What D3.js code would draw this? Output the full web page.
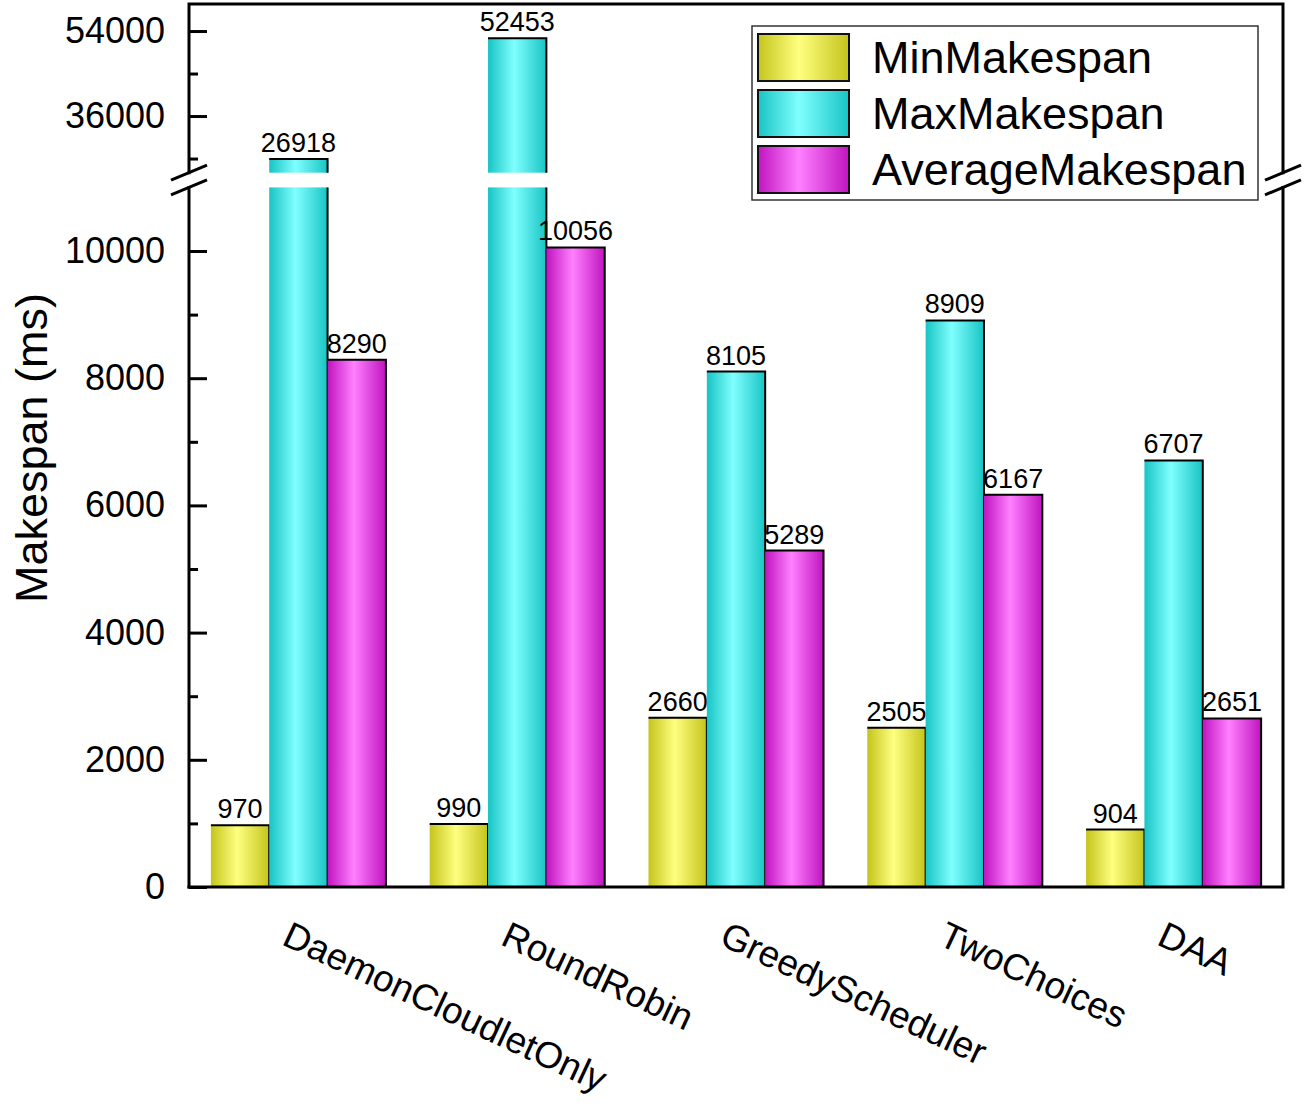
<!DOCTYPE html>
<html>
<head>
<meta charset="utf-8">
<script src="https://cdn.jsdelivr.net/npm/d3@7"></script>
<style>
  body { margin: 0; background: #fff; }
  text { font-family: "Liberation Sans", Arial, Helvetica, sans-serif; fill: #000; }
</style>
</head>
<body>
<svg id="chart"></svg>
<script>
// data
const categories = ["DaemonCloudletOnly", "RoundRobin", "GreedyScheduler", "TwoChoices", "DAA"];
const seriesNames = ["MinMakespan", "MaxMakespan", "AverageMakespan"];
const minMakespan = [970, 990, 2660, 2505, 904];
const maxMakespan = [26918, 52453, 8105, 8909, 6707];
const avgMakespan = [8290, 10056, 5289, 6167, 2651];
const lowerTicks = [0, 2000, 4000, 6000, 8000, 10000];
const lowerMinor = [1000, 3000, 5000, 7000, 9000];
const upperTicks = [36000, 54000];
const upperMinor = [27000, 45000];

const series = [minMakespan, maxMakespan, avgMakespan];

// colours: [edge, centre]
const barColors = [
    ["#c4c41c", "#ffff80"],
    ["#18c4c4", "#80ffff"],
    ["#c014c0", "#ff80ff"]
];

const W = 1307, H = 1111;
const plotLeft = 189, plotRight = 1283, plotBottom = 887, plotTop = 4;
const breakLow = 187.4, breakHigh = 172.7;
const lowMax = 11000, highMin = 24000;

const svg = d3.select("#chart")
    .attr("width", W)
    .attr("height", H);

// gradients
const defs = svg.append("defs");
barColors.forEach((c, i) => {
    const g = defs.append("linearGradient")
        .attr("id", "grad" + i)
        .attr("x1", "0%").attr("x2", "100%")
        .attr("y1", "0%").attr("y2", "0%");
    g.append("stop").attr("offset", "0%").attr("stop-color", c[0]);
    g.append("stop").attr("offset", "45%").attr("stop-color", c[1]);
    g.append("stop").attr("offset", "100%").attr("stop-color", c[0]);
});

// scales
const x = d3.scaleBand()
    .domain(categories)
    .range([plotLeft, plotRight])
    .paddingInner(0.2)
    .paddingOuter(0.1);

const xSub = d3.scaleBand()
    .domain(seriesNames)
    .range([0, x.bandwidth()]);

const yLow = d3.scaleLinear().domain([0, lowMax]).range([plotBottom, breakLow]);
const yHigh = d3.scaleLinear().domain([highMin, 60000]).range([breakHigh, 2.7]);

function yOf(v) {
    return v <= lowMax ? yLow(v) : yHigh(v);
}

// bars
const barsG = svg.append("g");
categories.forEach((cat, ci) => {
    seriesNames.forEach((name, si) => {
        const v = series[si][ci];
        const x0 = x(cat) + xSub(name);
        const w = xSub.bandwidth();
        const fill = "url(#grad" + si + ")";
        if (v <= lowMax) {
            barsG.append("rect")
                .attr("x", x0).attr("y", yLow(v))
                .attr("width", w).attr("height", yLow(0) - yLow(v))
                .attr("fill", fill);
            barsG.append("path")
                .attr("d", `M${x0},${yLow(v)}H${x0 + w}V${yLow(0)}`)
                .attr("fill", "none").attr("stroke", "#000").attr("stroke-width", 2);
        } else {
            // lower piece
            barsG.append("rect")
                .attr("x", x0).attr("y", yLow(lowMax))
                .attr("width", w).attr("height", yLow(0) - yLow(lowMax))
                .attr("fill", fill);
            barsG.append("path")
                .attr("d", `M${x0 + w},${yLow(lowMax)}V${yLow(0)}`)
                .attr("fill", "none").attr("stroke", "#000").attr("stroke-width", 2);
            // upper piece
            barsG.append("rect")
                .attr("x", x0).attr("y", yHigh(v))
                .attr("width", w).attr("height", yHigh(highMin) - yHigh(v))
                .attr("fill", fill);
            barsG.append("path")
                .attr("d", `M${x0},${yHigh(v)}H${x0 + w}V${yHigh(highMin)}`)
                .attr("fill", "none").attr("stroke", "#000").attr("stroke-width", 2);
        }
        barsG.append("text")
            .attr("x", x0 + w / 2)
            .attr("y", yOf(v) - 7)
            .attr("text-anchor", "middle")
            .style("font-size", "27px")
            .text(v);
    });
});

// axes (inward ticks)
function styleAxis(g) {
    g.select(".domain").remove();
    g.selectAll(".tick line").attr("stroke", "#000").attr("stroke-width", 3);
    g.selectAll(".tick text")
        .style("font-family", "'Liberation Sans', Arial, sans-serif")
        .style("font-size", "36px")
        .attr("fill", "#000");
}

const fmt = d3.format("d");

svg.append("g")
    .attr("transform", `translate(${plotLeft},0)`)
    .call(d3.axisLeft(yLow).tickValues(lowerTicks).tickFormat(fmt).tickSize(-18).tickPadding(24))
    .call(styleAxis);
svg.append("g")
    .attr("transform", `translate(${plotLeft},0)`)
    .call(d3.axisLeft(yLow).tickValues(lowerMinor).tickSize(-9).tickFormat(""))
    .call(styleAxis);
svg.append("g")
    .attr("transform", `translate(${plotLeft},0)`)
    .call(d3.axisLeft(yHigh).tickValues(upperTicks).tickFormat(fmt).tickSize(-18).tickPadding(24))
    .call(styleAxis);
svg.append("g")
    .attr("transform", `translate(${plotLeft},0)`)
    .call(d3.axisLeft(yHigh).tickValues(upperMinor).tickSize(-9).tickFormat(""))
    .call(styleAxis);

// frame with breaks
const frame = svg.append("g")
    .attr("fill", "none")
    .attr("stroke", "#000")
    .attr("stroke-width", 3)
    .attr("stroke-linecap", "square");
frame.append("path").attr("d", `M${plotLeft},${plotBottom}V${breakLow}`);
frame.append("path").attr("d", `M${plotLeft},${breakHigh}V${plotTop}H${plotRight}V${breakHigh}`);
frame.append("path").attr("d", `M${plotRight},${breakLow}V${plotBottom}H${plotLeft}`);

// break marks
[plotLeft, plotRight].forEach(ax => {
    [breakHigh, breakLow].forEach(by => {
        svg.append("line")
            .attr("x1", ax - 18).attr("y1", by + 7.5)
            .attr("x2", ax + 18).attr("y2", by - 7.5)
            .attr("stroke", "#000").attr("stroke-width", 3);
    });
});

// x labels
svg.append("g").selectAll("text")
    .data(categories)
    .enter().append("text")
    .attr("transform", d => `translate(${x(d) + x.bandwidth() / 2 - 18},944) rotate(25)`)
    .attr("text-anchor", "start")
    .style("font-size", "37px")
    .text(d => d);

// y title
svg.append("text")
    .attr("transform", "translate(47,448) rotate(-90)")
    .attr("text-anchor", "middle")
    .style("font-size", "45px")
    .text("Makespan (ms)");

// legend
const legend = svg.append("g");
legend.append("rect")
    .attr("x", 752).attr("y", 26)
    .attr("width", 506).attr("height", 174)
    .attr("fill", "#fff")
    .attr("stroke", "#333").attr("stroke-width", 1.5);
seriesNames.forEach((name, i) => {
    const ly = 34 + i * 56;
    legend.append("rect")
        .attr("x", 758).attr("y", ly)
        .attr("width", 91).attr("height", 47)
        .attr("fill", "url(#grad" + i + ")")
        .attr("stroke", "#111").attr("stroke-width", 2);
    legend.append("text")
        .attr("x", 872).attr("y", ly + 23.5)
        .attr("dy", "0.35em")
        .style("font-size", "45px")
        .text(name);
});
</script>
</body>
</html>
